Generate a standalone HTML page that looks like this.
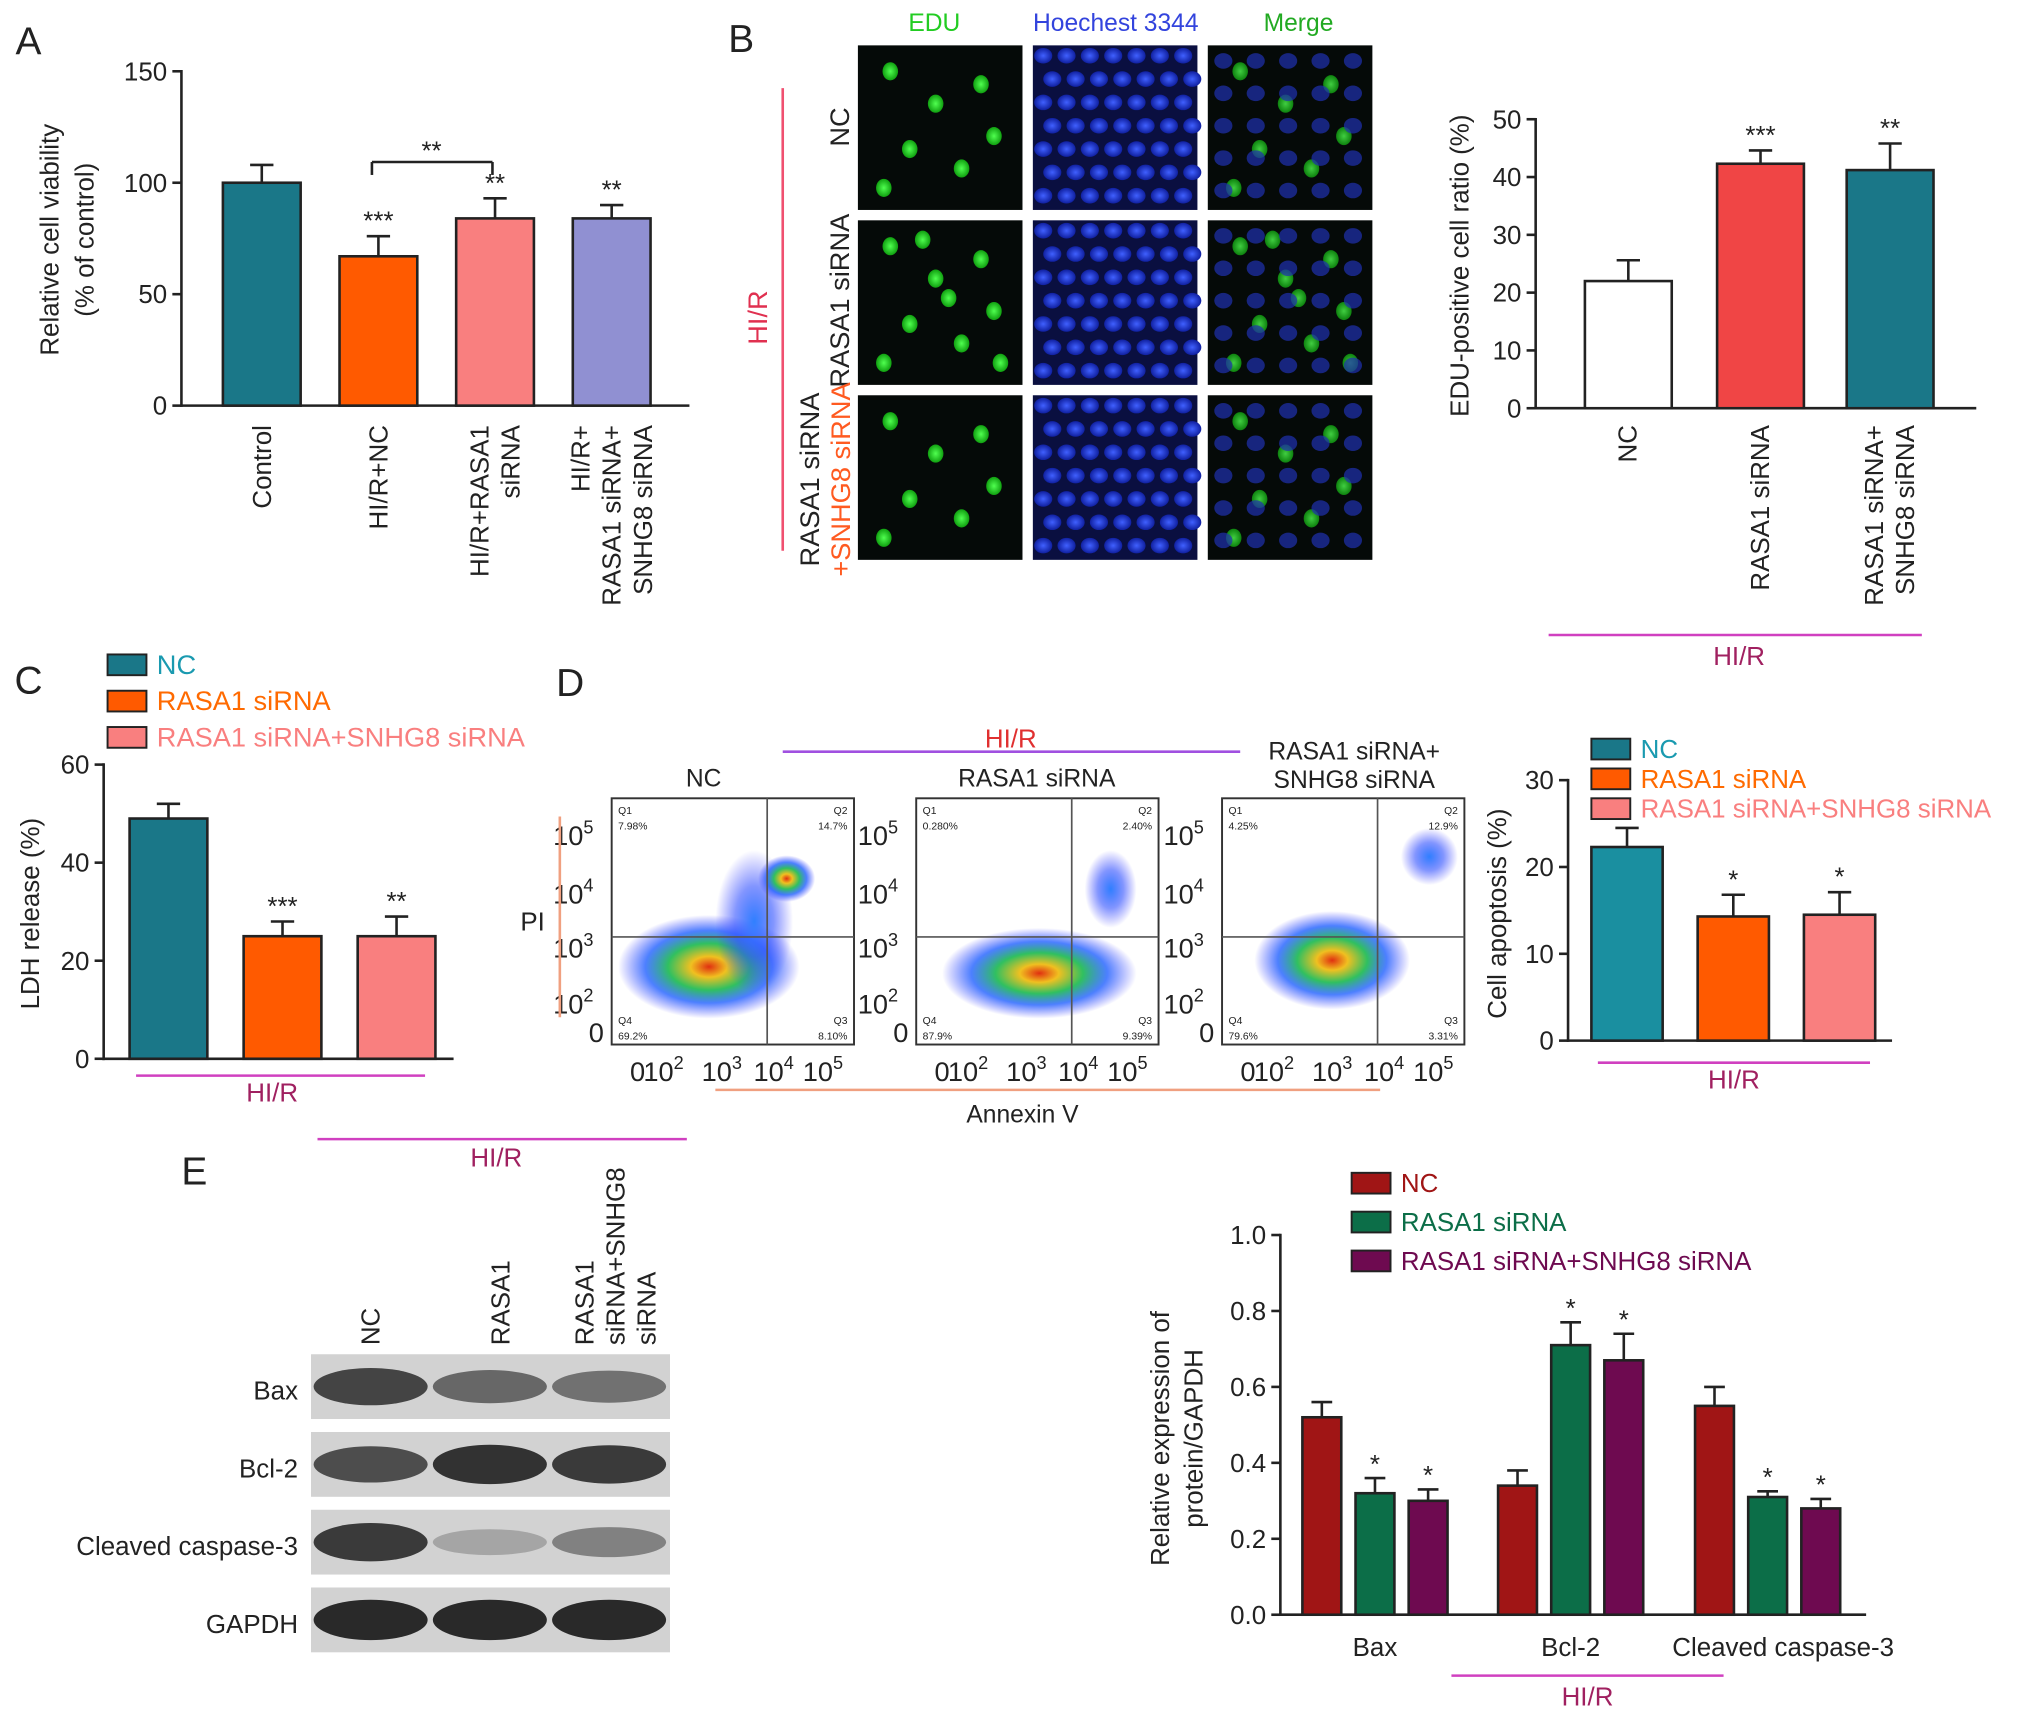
<!DOCTYPE html>
<html><head><meta charset="utf-8"><style>
html,body{margin:0;padding:0;background:#fff}
svg{display:block;font-family:"Liberation Sans",Arial,sans-serif}
</style></head><body>
<svg id="fig" xmlns="http://www.w3.org/2000/svg" width="2032" height="1721" viewBox="0 0 1568 1328">
<defs>
<radialGradient id="dens" cx="50%" cy="50%" r="50%">
<stop offset="0" stop-color="#e03010"/><stop offset="0.2" stop-color="#f0c020"/><stop offset="0.45" stop-color="#30c060"/><stop offset="0.7" stop-color="#2060ff" stop-opacity="0.8"/><stop offset="1" stop-color="#4040ff" stop-opacity="0"/>
</radialGradient>
<radialGradient id="dens2" cx="50%" cy="50%" r="50%">
<stop offset="0" stop-color="#3080ff"/><stop offset="0.5" stop-color="#3050ff" stop-opacity="0.6"/><stop offset="1" stop-color="#4040ff" stop-opacity="0"/>
</radialGradient>
<radialGradient id="cellg"><stop offset="0" stop-color="#50ff50"/><stop offset="1" stop-color="#10a010"/></radialGradient>
<radialGradient id="cellb"><stop offset="0" stop-color="#4060ff"/><stop offset="1" stop-color="#1020a0"/></radialGradient>
</defs>
<g id="root"></g>
</svg>
<script>
// ---------- data ----------
const aCats=["Control","HI/R+NC","HI/R+RASA1 siRNA","HI/R+ RASA1 siRNA+ SNHG8 siRNA"];
const aVals=[100,67,84,84];
const aErr=[8,9,9,6];
const aTicks=[0,50,100,150];
const aSig=["","***","**","**"];
const bCats=["NC","RASA1 siRNA","RASA1 siRNA+ SNHG8 siRNA"];
const bVals=[22,42.3,41.2];
const bErr=[3.6,2.3,4.6];
const bTicks=[0,10,20,30,40,50];
const bSig=["","***","**"];
const cCats=["NC","RASA1 siRNA","RASA1 siRNA+SNHG8 siRNA"];
const cVals=[49,25,25];
const cErr=[3,3,4];
const cTicks=[0,20,40,60];
const cSig=["","***","**"];
const dVals=[22.3,14.3,14.5];
const dErr=[2.2,2.5,2.6];
const dTicks=[0,10,20,30];
const dSig=["","*","*"];
const eGroups=["Bax","Bcl-2","Cleaved caspase-3"];
const eNC=[0.52,0.34,0.55];
const eRASA=[0.32,0.71,0.31];
const eBoth=[0.30,0.67,0.28];
const eErrNC=[0.04,0.04,0.05];
const eErrRASA=[0.04,0.06,0.015];
const eErrBoth=[0.03,0.07,0.025];
const eTicks=["0.0","0.2","0.4","0.6","0.8","1.0"];
const eSigNC=["","",""];
const eSigRASA=["*","*","*"];
const eSigBoth=["*","*","*"];

const NS="http://www.w3.org/2000/svg";
const root=document.getElementById('root');
function el(tag,attrs,parent,txt){const e=document.createElementNS(NS,tag);for(const k in attrs)e.setAttribute(k,attrs[k]);if(txt!==undefined)e.textContent=txt;(parent||root).appendChild(e);return e;}
function grp(name){const g=el('g',{});return g;}
function txt(g,x,y,s,size,opt){opt=opt||{};const t=el('text',{x:x,y:y,'font-size':size,fill:opt.fill||'#222','text-anchor':opt.anchor||'middle'},g,s);if(opt.rot)t.setAttribute('transform',`rotate(${opt.rot} ${x} ${y})`);if(opt.weight)t.setAttribute('font-weight',opt.weight);return t;}
function line(g,x1,y1,x2,y2,c,w,name){const l=el('line',{x1,y1,x2,y2,stroke:c||'#222','stroke-width':w||2},g);return l;}

function barChart(o){
  const g=grp(o.name);
  const ys=v=>o.y0-(v-o.vmin)/(o.vmax-o.vmin)*(o.y0-o.y1);
  line(g,o.ax,o.y1-1,o.ax,o.y0+1,'#222',2,'y-axis');
  line(g,o.ax-1,o.y0,o.xend,o.y0,'#222',2,'x-axis');
  o.ticks.forEach(t=>{const v=parseFloat(t);const y=ys(v);line(g,o.ax-7,y,o.ax,y,'#222',2,'y-tick');txt(g,o.ax-11,y+7,String(t),o.tfs||20,{anchor:'end',name:'y-tick-label'});});
  o.vals.forEach((v,i)=>{
    const x=o.bx[i],w=o.bw,y=ys(v),ye=ys(v+o.err[i]);
    line(g,x+w/2,y,x+w/2,ye,'#222',2,'error-bar');line(g,x+w/2-9,ye,x+w/2+9,ye,'#222',2,'error-cap');
    const r=el('rect',{x:x,y:y,width:w,height:o.y0-y,fill:o.colors[i],stroke:'#222','stroke-width':2},g);
    
    if(o.sig&&o.sig[i])txt(g,x+w/2,ye-5,o.sig[i],20,{name:'significance'});
  });
  return {g,ys};
}
function legend(x,y,gap,labels,colors,tc,name,fs){const g=grp(name);labels.forEach((l,i)=>{const r=el('rect',{x:x,y:y+i*gap,width:30,height:16,fill:colors[i],stroke:'#222','stroke-width':1.5},g);txt(g,x+38,y+i*gap+15,l,fs||20,{anchor:'start',fill:tc[i],name:'legend-entry'});});}

// ---------- Panel A ----------
txt(root,22,42,'A',30,{name:'panel-a-label'});
const A=barChart({name:'panel-a-chart',ax:140,y0:313,y1:55,vmin:0,vmax:150,xend:532,ticks:aTicks,vals:aVals,err:aErr,bx:[172,262,352,442],bw:60,colors:['#1a7788','#ff5a00','#f97f7f','#9090d2'],sig:aSig,tfs:20});
{const g=A.g;const y=125;line(g,287,y+10,287,y,'#222',2,'bracket');line(g,287,y,380,y,'#222',2,'bracket');line(g,380,y,380,y+10,'#222',2,'bracket');txt(g,333,y-2,'**',20,{name:'bracket-sig'});
txt(g,45,185,'Relative cell viability',20,{rot:-90,name:'y-axis-title'});txt(g,72,185,'(% of control)',20,{rot:-90,name:'y-axis-title'});
const lab=[["Control"],["HI/R+NC"],["HI/R+RASA1","siRNA"],["HI/R+","RASA1 siRNA+","SNHG8 siRNA"]];
lab.forEach((ls,i)=>{const cx=[202,292,382,472][i];ls.forEach((s,j)=>{const off=(j-(ls.length-1)/2)*24;txt(g,cx+7+off,328,s,20,{anchor:'end',rot:-90,name:'x-tick-label'});});});}

// ---------- Panel B ----------
txt(root,572,40,'B',30,{name:'panel-b-label'});
{const g=grp('panel-b-images');
txt(g,721,24,'EDU',19,{fill:'#22cc22',name:'column-header'});txt(g,861,24,'Hoechest 3344',19,{fill:'#3344dd',name:'column-header'});txt(g,1002,24,'Merge',19,{fill:'#22aa22',name:'column-header'});
const cols=[662,797,932],rows=[35,170,305];
const cellPos=[[25,20],[60,45],[95,30],[40,80],[80,95],[105,70],[20,110],[70,60],[110,110],[50,15]];
rows.forEach((ry,ri)=>cols.forEach((cx,ci)=>{const r=el('rect',{x:cx,y:ry,width:127,height:127,fill:ci==1?'#0a0f40':'#050a08'},g);
 if(ci==1){for(let a=0;a<7;a++)for(let b=0;b<7;b++){el('ellipse',{cx:cx+8+a*18+(b%2)*7,cy:ry+8+b*18,rx:7,ry:6,fill:'url(#cellb)'},g);}}
 const n=ri==1?10:7;
 if(ci!=1)cellPos.slice(0,n).forEach(p=>el('ellipse',{cx:cx+p[0],cy:ry+p[1],rx:6,ry:7,fill:'url(#cellg)',opacity:ci==2?0.8:1},g));
 if(ci==2){for(let a=0;a<5;a++)for(let b=0;b<5;b++)el('ellipse',{cx:cx+12+a*25,cy:ry+12+b*25,rx:7,ry:6,fill:'#2030b0',opacity:0.7},g);}
}));
txt(g,655,98,'NC',21,{rot:-90,name:'row-label'});txt(g,655,232,'RASA1 siRNA',21,{rot:-90,name:'row-label'});
txt(g,632,370,'RASA1 siRNA',21,{rot:-90,name:'row-label'});txt(g,656,370,'+SNHG8 siRNA',21,{rot:-90,fill:'#ff5a20',name:'row-label'});
line(g,604,68,604,425,'#f05070',2,'group-line');txt(g,592,245,'HI/R',21,{rot:-90,fill:'#e03050',name:'group-label'});}
const B=barChart({name:'panel-b-chart',ax:1185,y0:315,y1:92,vmin:0,vmax:50,xend:1525,ticks:bTicks,vals:bVals,err:bErr,bx:[1223,1325,1425],bw:67,colors:['#ffffff','#f04545','#1a7788'],sig:bSig});
{const g=B.g;txt(g,1133,205,'EDU-positive cell ratio (%)',20,{rot:-90,name:'y-axis-title'});
[["NC"],["RASA1 siRNA"],["RASA1 siRNA+","SNHG8 siRNA"]].forEach((ls,i)=>{const cx=[1256,1358,1458][i];ls.forEach((s,j)=>{const off=(j-(ls.length-1)/2)*24;txt(g,cx+7+off,328,s,20,{anchor:'end',rot:-90,name:'x-tick-label'});});});
line(g,1195,490,1483,490,'#d040c0',2,'group-line');txt(g,1342,513,'HI/R',20,{fill:'#a02060',name:'group-label'});}

// ---------- Panel C ----------
txt(root,22,535,'C',30,{name:'panel-c-label'});
legend(83,505,28,cCats,['#1a7788','#ff5a00','#f97f7f'],['#1a9ab0','#ff6a00','#f97f7f'],'panel-c-legend',21);
const C=barChart({name:'panel-c-chart',ax:80,y0:817,y1:590,vmin:0,vmax:60,xend:350,ticks:cTicks,vals:cVals,err:cErr,bx:[100,188,276],bw:60,colors:['#1a7788','#ff5a00','#f97f7f'],sig:cSig});
{const g=C.g;txt(g,30,705,'LDH release (%)',20,{rot:-90,name:'y-axis-title'});line(g,105,830,328,830,'#d040c0',2,'group-line');txt(g,210,850,'HI/R',20,{fill:'#a02060',name:'group-label'});}

// ---------- Panel D ----------
txt(root,440,537,'D',30,{name:'panel-d-label'});
{const g=grp('panel-d-flow');
line(g,604,580,957,580,'#a050e0',2,'group-line');txt(g,780,577,'HI/R',20,{fill:'#e03030',name:'group-label'});
const titles=[["NC"],["RASA1 siRNA"],["RASA1 siRNA+","SNHG8 siRNA"]];
const tcx=[543,800,1045];
const px=[472,707,943];const q=[["7.98%","14.7%","69.2%","8.10%"],["0.280%","2.40%","87.9%","9.39%"],["4.25%","12.9%","79.6%","3.31%"]];
px.forEach((x0,i)=>{const y0=616,w=187,h=190;
 titles[i].forEach((s,j)=>txt(g,tcx[i],titles[i].length==1?607:586+j*22,s,19,{name:'plot-title'}));
 const r=el('rect',{x:x0,y:y0,width:w,height:h,fill:'#fff',stroke:'#333','stroke-width':1.5},g);
 if(i==0){el('ellipse',{cx:x0+75,cy:y0+130,rx:70,ry:40,fill:'url(#dens)'},g);el('ellipse',{cx:x0+110,cy:y0+95,rx:30,ry:55,fill:'url(#dens2)'},g);el('ellipse',{cx:x0+135,cy:y0+62,rx:22,ry:18,fill:'url(#dens)'},g);}
 if(i==1){el('ellipse',{cx:x0+95,cy:y0+135,rx:75,ry:35,fill:'url(#dens)'},g);el('ellipse',{cx:x0+150,cy:y0+70,rx:20,ry:30,fill:'url(#dens2)'},g);}
 if(i==2){el('ellipse',{cx:x0+85,cy:y0+125,rx:60,ry:38,fill:'url(#dens)'},g);el('ellipse',{cx:x0+160,cy:y0+45,rx:22,ry:22,fill:'url(#dens2)'},g);}
 line(g,x0+120,y0,x0+120,y0+h,'#555',1.3,'gate-line');line(g,x0,y0+107,x0+w,y0+107,'#555',1.3,'gate-line');
 txt(g,x0+5,y0+12,'Q1',8,{anchor:'start',name:'quadrant'});txt(g,x0+5,y0+24,q[i][0],8,{anchor:'start',name:'quadrant'});
 txt(g,x0+w-5,y0+12,'Q2',8,{anchor:'end',name:'quadrant'});txt(g,x0+w-5,y0+24,q[i][1],8,{anchor:'end',name:'quadrant'});
 txt(g,x0+5,y0+h-16,'Q4',8,{anchor:'start',name:'quadrant'});txt(g,x0+5,y0+h-4,q[i][2],8,{anchor:'start',name:'quadrant'});
 txt(g,x0+w-5,y0+h-16,'Q3',8,{anchor:'end',name:'quadrant'});txt(g,x0+w-5,y0+h-4,q[i][3],8,{anchor:'end',name:'quadrant'});
 [["10","5",y0+28],["10","4",y0+73],["10","3",y0+115],["10","2",y0+158],["0","",y0+180]].forEach(t=>{const tt=txt(g,x0-6,t[2]+8,t[0],21,{anchor:'end',name:'y-tick-label'});if(t[1]){tt.setAttribute('x',x0-14);el('tspan',{'font-size':14,dy:-9},tt,t[1]);}});
 [["0","",x0+20],["10","2",x0+40],["10","3",x0+85],["10","4",x0+125],["10","5",x0+163]].forEach(t=>{const tt=txt(g,t[2],y0+h+28,t[0],21,{name:'x-tick-label'});if(t[1])el('tspan',{'font-size':14,dy:-9},tt,t[1]);});
});
line(g,432,630,432,785,'#f0a080',2,'axis-line');txt(g,411,718,'PI',20,{name:'y-axis-title'});
line(g,552,841,1065,841,'#f0a080',2,'axis-line');txt(g,789,866,'Annexin V',19,{name:'x-axis-title'});}
legend(1228,570,23,cCats,['#1a7788','#ff5a00','#f97f7f'],['#1a9ab0','#ff6a00','#f97f7f'],'panel-d-legend');
const D=barChart({name:'panel-d-chart',ax:1210,y0:803,y1:602,vmin:0,vmax:30,xend:1460,ticks:dTicks,vals:dVals,err:dErr,bx:[1228,1310,1392],bw:55,colors:['#1a8fa0','#ff5a00','#f97f7f'],sig:dSig});
{const g=D.g;txt(g,1162,705,'Cell apoptosis (%)',20,{rot:-90,name:'y-axis-title'});line(g,1233,820,1443,820,'#d040c0',2,'group-line');txt(g,1338,840,'HI/R',20,{fill:'#a02060',name:'group-label'});}

// ---------- Panel E ----------
txt(root,150,914,'E',30,{name:'panel-e-label'});
{const g=grp('panel-e-blot');
line(g,245,879,530,879,'#d040c0',2,'group-line');txt(g,383,900,'HI/R',20,{fill:'#a02060',name:'group-label'});
txt(g,293,1038,'NC',20,{anchor:'start',rot:-90,name:'lane-label'});txt(g,393,1038,'RASA1',20,{anchor:'start',rot:-90,name:'lane-label'});
[["RASA1",458],["siRNA+SNHG8",482],["siRNA",506]].forEach(s=>txt(g,s[1],1038,s[0],20,{anchor:'start',rot:-90,name:'lane-label'}));
const rows=[["Bax",1045],["Bcl-2",1105],["Cleaved caspase-3",1165],["GAPDH",1225]];
const inten=[[0.8,0.6,0.55],[0.75,0.9,0.85],[0.85,0.25,0.45],[0.95,0.95,0.95]];
rows.forEach((r,i)=>{const b=el('rect',{x:240,y:r[1],width:277,height:50,fill:'#d2d2d2'},g);
 txt(g,230,r[1]+35,r[0],20,{anchor:'end',name:'protein-label'});
 [286,378,470].forEach((cx,j)=>{const k=inten[i][j];el('ellipse',{cx:cx,cy:r[1]+25,rx:44,ry:8+8*k,fill:'#202020',opacity:k},g);});});}
legend(1043,905,30,["NC","RASA1 siRNA","RASA1 siRNA+SNHG8 siRNA"],['#a01515','#0c6e48','#6e0a50'],['#a01515','#0c6e48','#6e0a50'],'panel-e-legend');
{const g=grp('panel-e-chart');const ax=988,y0=1246,y1=953;const ys=v=>y0-v*(y0-y1);
line(g,ax,y1-1,ax,y0+1,'#222',2,'y-axis');line(g,ax-1,y0,1440,y0,'#222',2,'x-axis');
eTicks.forEach(t=>{const y=ys(parseFloat(t));line(g,ax-7,y,ax,y,'#222',2,'y-tick');txt(g,ax-11,y+7,t,20,{anchor:'end',name:'y-tick-label'});});
const series=[[eNC,eErrNC,'#a01515',eSigNC,0],[eRASA,eErrRASA,'#0c6e48',eSigRASA,41],[eBoth,eErrBoth,'#6e0a50',eSigBoth,82]];
const gx=[1005,1156,1308];
series.forEach((s,si)=>s[0].forEach((v,i)=>{const x=gx[i]+s[4],w=30,y=ys(v),ye=ys(v+s[1][i]);
 line(g,x+w/2,y,x+w/2,ye,'#222',2,'error-bar');line(g,x+w/2-8,ye,x+w/2+8,ye,'#222',2,'error-cap');
 const r=el('rect',{x:x,y:y,width:w,height:y0-y,fill:s[2],stroke:'#222','stroke-width':2},g);
 if(s[3][i])txt(g,x+w/2,ye-4,s[3][i],20,{name:'significance'});}));
eGroups.forEach((n,i)=>txt(g,[1061,1212,1376][i],1278,n,20,{name:'x-tick-label'}));
txt(g,902,1110,'Relative expression of',20,{rot:-90,name:'y-axis-title'});txt(g,928,1110,'protein/GAPDH',20,{rot:-90,name:'y-axis-title'});
line(g,1120,1293,1330,1293,'#d040c0',2,'group-line');txt(g,1225,1316,'HI/R',20,{fill:'#a02060',name:'group-label'});}
</script>
</body></html>
